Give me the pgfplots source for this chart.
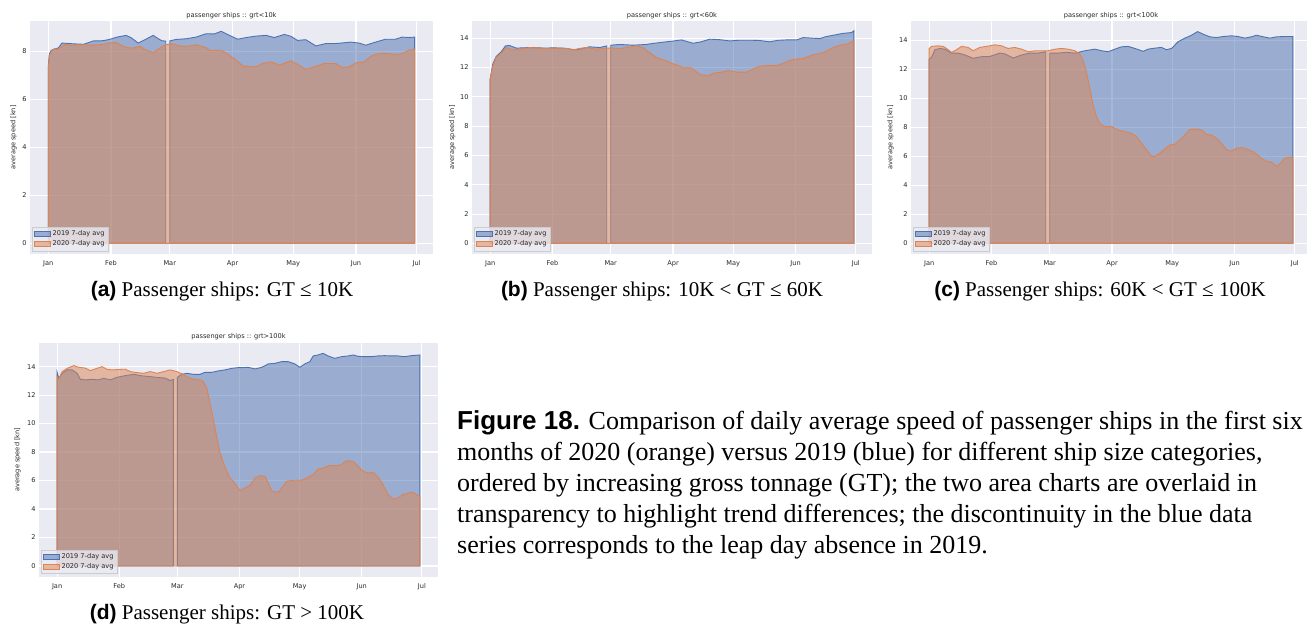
\documentclass[border=0pt]{standalone}
\usepackage{fontspec}
\setmainfont{Liberation Serif}
\newfontfamily\dejavu{DejaVu Sans}
\newfontfamily\arialf{Liberation Sans}
\usepackage{pgfplots}
\pgfplotsset{compat=1.18}
\definecolor{bgc}{HTML}{EAEAF2}
\definecolor{c19}{HTML}{4C72B0}
\definecolor{c20}{HTML}{DD8452}
\definecolor{txt}{HTML}{262626}
\newcommand\sm{\dejavu\fontsize{6.6}{7.5}\selectfont}
\newcommand\capf{\fontsize{21}{31}\selectfont}
\newcommand\bigcapf{\fontsize{26}{31}\selectfont}
\pgfplotsset{
 panel/.style={
  scale only axis, anchor=north west,
  axis background/.style={fill=bgc},
  grid=major, major grid style={white, line width=1.2pt},
  axis line style={draw=none},
  major tick length=0pt,
  xmin=-9.05, xmax=190.05,
  xtick={0,31,60,91,121,152,182},
  xticklabels={Jan,Feb,Mar,Apr,May,Jun,Jul},
  tick label style={font=\sm, text=txt},
  xticklabel style={text height=5pt, text depth=1pt, yshift=-3pt},
  /pgf/number format/assume math mode=true,
  ylabel={average speed [kn]},
  ylabel style={font=\sm, text=txt, anchor=center},
  title style={font=\sm, text=txt, yshift=-7pt},
  legend style={at={(0.005,0.013)}, anchor=south west, fill=bgc, fill opacity=0.8, text opacity=1, draw=black!20, font=\sm, text=txt, inner xsep=1.5pt, inner ysep=1.5pt, row sep=-0.5pt},
  legend cell align=left,
  legend image code/.code={\draw[##1, fill opacity=0.5, draw opacity=1, sharp corners] (0pt,-2.7pt) rectangle (16pt,2.7pt);},
 },
 b19/.style={draw=c19, fill=c19, fill opacity=0.5, line width=0.9pt},
 b20/.style={draw=c20, fill=c20, fill opacity=0.5, line width=0.9pt},
}
\begin{document}
\begin{tikzpicture}
\useasboundingbox (0,0) rectangle (1307pt,626pt);
% ---------------- (a)
\begin{axis}[panel, at={(30pt,605pt)}, width=403pt, height=233pt,
 ymin=-0.44, ymax=9.27, ytick={0,2,4,6,8},
 title={passenger ships :: grt<10k},
 ylabel style={at={(axis description cs:-0.041,0.5)}}]
\addplot[b19] coordinates {(0,7.4)(0.5,7.9)(1.5,8.05)(3,8.1)(5,8.15)(6.7,8.35)(9,8.34)(12,8.32)(17.4,8.30)(22.3,8.44)(26,8.44)(29,8.48)(31.3,8.53)(34,8.6)(38.4,8.67)(41,8.57)(44.4,8.35)(47.5,8.48)(51.8,8.67)(54,8.55)(56,8.45)(58,8.43)} \closedcycle;
\addplot[b19, forget plot] coordinates {(60,8.44)(63,8.5)(68.2,8.53)(73,8.6)(78,8.74)(82,8.73)(85.4,8.84)(89.5,8.67)(93.6,8.51)(97.7,8.58)(102.6,8.64)(107.6,8.67)(111.6,8.58)(116.6,8.71)(119.9,8.63)(123.1,8.46)(127.2,8.49)(132.2,8.23)(137.1,8.33)(142,8.33)(149.4,8.39)(153.5,8.35)(156.8,8.26)(161.7,8.39)(166.6,8.51)(171.5,8.51)(174.8,8.6)(178.1,8.58)(181,8.6)} \closedcycle;
\addplot[b20] coordinates {(0,7.3)(0.5,7.8)(1.5,8.0)(2.6,8.1)(5,8.1)(8.4,8.3)(11,8.26)(15.6,8.28)(20.7,8.27)(25.5,8.28)(28.7,8.32)(32,8.38)(33.8,8.37)(37,8.21)(39.5,8.16)(41.5,8.14)(45.3,8.22)(48,8.07)(51.8,7.95)(55,8.14)(57.5,8.26)(60.8,8.33)(65.7,8.22)(69.8,8.23)(73.1,8.28)(78,8.16)(80,8.04)(85.4,8.05)(89.5,7.84)(92.8,7.63)(96.1,7.4)(102.6,7.36)(105.9,7.5)(110,7.57)(114.1,7.43)(119.9,7.61)(122.3,7.5)(127.2,7.25)(131.3,7.36)(136.3,7.5)(142,7.5)(145.3,7.33)(148.6,7.36)(151.8,7.52)(155.9,7.57)(160,7.84)(163.3,7.91)(168.2,7.91)(171.5,7.87)(174.8,7.91)(178.1,8.05)(181,8.09)} \closedcycle;
\legend{2019 7-day avg, 2020 7-day avg}
\end{axis}
% ---------------- (b)
\begin{axis}[panel, at={(472pt,605pt)}, width=400pt, height=233pt,
 ymin=-0.72, ymax=15.17, ytick={0,2,...,14},
 title={passenger ships :: grt<60k},
 ylabel style={at={(axis description cs:-0.049,0.5)}}]
\addplot[b19] coordinates {(0,11.22)(1.3,12.24)(3,12.75)(5.5,13.07)(7.6,13.47)(9.6,13.5)(13,13.32)(19.6,13.36)(27.9,13.32)(31,13.34)(36.2,13.32)(42.9,13.2)(49.5,13.41)(54.5,13.36)(58,13.47)} \closedcycle;
\addplot[b19, forget plot] coordinates {(60,13.52)(64.4,13.57)(71.1,13.52)(77.7,13.57)(81,13.64)(87.7,13.75)(91,13.8)(95.2,13.88)(101,13.65)(105,13.75)(109.3,13.93)(114,13.9)(119.3,13.81)(124,13.86)(129.2,13.86)(134,13.84)(139.2,13.75)(143,13.85)(147.5,13.88)(152.5,13.88)(155.8,14.04)(160,14.0)(164.1,13.97)(167,14.1)(170.8,14.2)(175.8,14.33)(179.9,14.38)(181,14.5)} \closedcycle;
\addplot[b20] coordinates {(0,11.22)(1.3,12.1)(3,12.68)(5.5,12.98)(8,13.36)(11.3,13.2)(15,13.25)(19.6,13.36)(24,13.33)(27.9,13.29)(31,13.32)(34.5,13.32)(38,13.3)(41.2,13.2)(44.5,13.3)(47.8,13.36)(52.8,13.25)(57.8,13.32)(61,13.33)(64.4,13.29)(67.8,13.36)(72.7,13.47)(76,13.36)(79.4,13.02)(82.7,12.68)(87.7,12.45)(91,12.25)(94.3,12.1)(96,11.97)(100.2,11.97)(104.4,11.51)(108.5,11.45)(111.8,11.63)(115,11.68)(118.5,11.79)(122.7,11.68)(127.7,11.68)(131,11.9)(134.3,12.09)(138,12.13)(142.6,12.13)(146,12.3)(150,12.53)(155.8,12.62)(160,12.84)(165.8,13.02)(170.8,13.36)(174.1,13.52)(177.4,13.59)(181,13.81)} \closedcycle;
\legend{2019 7-day avg, 2020 7-day avg}
\end{axis}
% ---------------- (c)
\begin{axis}[panel, at={(911pt,605pt)}, width=400pt, height=233pt,
 ymin=-0.73, ymax=15.32, ytick={0,2,...,14},
 title={passenger ships :: grt<100k},
 ylabel style={at={(axis description cs:-0.051,0.5)}}]
\addplot[b19] coordinates {(0,12.7)(1.2,12.82)(2.8,13.34)(5.3,13.43)(7.8,13.38)(11.1,13.11)(14.4,13.11)(17.8,12.98)(21.9,12.75)(26,12.86)(30.2,12.88)(35.2,13.11)(37.7,13.05)(41.8,12.77)(46,12.98)(50.1,13.11)(54.3,13.11)(58,13.2)} \closedcycle;
\addplot[b19, forget plot] coordinates {(60,13.11)(64.2,13.11)(68.4,13.16)(72.5,13.11)(74.2,13.16)(77.5,13.27)(82.5,13.38)(85.8,13.27)(89.1,13.2)(92.4,13.38)(95.7,13.54)(99,13.57)(102.4,13.43)(106.5,13.23)(109,13.38)(112.3,13.45)(115.6,13.5)(118.1,13.34)(120.6,13.43)(123.9,13.89)(127.3,14.14)(130.6,14.34)(133.6,14.59)(136.4,14.41)(139.7,14.23)(143,14.18)(146.3,14.25)(150.5,14.3)(153.8,14.25)(157.1,14.14)(160.4,14.23)(162.9,14.34)(166.3,14.23)(169.6,14.14)(172.9,14.23)(177,14.25)(181,14.25)} \closedcycle;
\addplot[b20] coordinates {(0,13.43)(1.2,13.57)(4.5,13.61)(7,13.57)(8.6,13.43)(11.1,13.16)(13.6,13.34)(16.1,13.57)(19.4,13.5)(21.9,13.27)(25.2,13.5)(28.5,13.57)(32.7,13.68)(36,13.61)(39.3,13.43)(42.6,13.5)(46,13.38)(49.3,13.2)(52.6,13.27)(55.9,13.27)(59.2,13.27)(62.6,13.38)(65.9,13.43)(69.2,13.38)(72.5,13.27)(75,13.04)(76.7,12.59)(78.3,11.79)(80,10.65)(81.6,9.52)(83.3,8.72)(84.9,8.26)(87.4,8.04)(90.8,8.04)(94.1,7.81)(97.4,7.69)(100.7,7.58)(103.2,7.35)(105.7,6.9)(108.2,6.44)(110.7,5.99)(112.3,5.99)(114.8,6.21)(117.3,6.51)(119.8,6.78)(122.3,6.83)(124.8,7.12)(127.3,7.47)(129.7,7.85)(133.1,7.88)(135.6,7.81)(138,7.51)(140.5,7.47)(143,7.24)(145.5,6.9)(148,6.44)(150.5,6.37)(153,6.56)(155.5,6.6)(158,6.51)(160.4,6.37)(162.9,6.15)(165.4,5.87)(167.9,5.65)(170.4,5.6)(172.9,5.3)(174.5,5.46)(177,5.87)(179.5,5.94)(181,5.92)} \closedcycle;
\legend{2019 7-day avg, 2020 7-day avg}
\end{axis}
% ---------------- (d)
\begin{axis}[panel, at={(39pt,283.3pt)}, width=399pt, height=234pt,
 ymin=-0.75, ymax=15.68, ytick={0,2,...,14},
 title={passenger ships :: grt>100k},
 ylabel style={at={(axis description cs:-0.054,0.5)}}]
\addplot[b19] coordinates {(0,13.6)(0.8,13.18)(2.5,13.53)(5,13.77)(7.5,13.77)(10,13.53)(11.6,13.11)(14.1,13.07)(17.4,13.11)(20.7,13.07)(23.2,13.18)(26.5,13.07)(29.9,13.25)(34,13.37)(38.2,13.46)(42.3,13.35)(46.5,13.3)(50.6,13.23)(53.9,13.2)(56.4,13.02)(58,13.1)} \closedcycle;
\addplot[b19, forget plot] coordinates {(60,13.25)(62.2,13.46)(64.7,13.53)(68,13.46)(71.3,13.46)(73.8,13.6)(77.2,13.6)(80.5,13.7)(83.8,13.77)(87.1,13.88)(90.4,13.93)(92.1,13.93)(95.4,13.95)(98.7,13.84)(102.1,13.95)(105.4,14.19)(108.7,14.23)(112,14.35)(115.3,14.35)(118.6,14.19)(121.1,13.95)(123.6,14.19)(126.1,14.35)(127.8,14.75)(130.2,14.82)(132.7,14.93)(135.2,14.75)(138.5,14.58)(141.9,14.7)(145.2,14.75)(147.7,14.82)(150.2,14.72)(153.5,14.7)(156.8,14.7)(160.1,14.75)(163.4,14.77)(166.7,14.75)(170,14.75)(173.4,14.7)(176.7,14.77)(181,14.82)} \closedcycle;
\addplot[b20] coordinates {(0,13.3)(0.8,13.11)(2.5,13.65)(5,13.88)(8.3,14.07)(10.8,13.95)(14,13.9)(16.6,13.72)(19.1,13.84)(22.4,14.0)(24.9,13.81)(27.4,13.77)(30.7,13.8)(34,13.82)(36.5,13.65)(39.8,13.58)(43.1,13.53)(46.5,13.65)(49.8,13.53)(53.1,13.65)(56.4,13.77)(59.7,13.65)(62.2,13.5)(64.7,13.3)(68,13.11)(71.3,13.07)(73,12.95)(74.7,12.48)(76.3,11.43)(78,10.27)(79.6,9.1)(81.3,7.93)(83,7.23)(84.6,6.65)(86.3,6.18)(87.9,5.95)(89.6,5.6)(91.3,5.3)(93.7,5.48)(96.2,5.65)(98.7,6.18)(101.2,6.35)(103.7,6.3)(105.4,5.83)(107.1,5.25)(110.4,5.18)(112,5.48)(114.5,5.95)(117.8,6.02)(122,6.02)(124.4,6.18)(127.8,6.42)(130.2,6.81)(132.7,6.88)(136,7.05)(139.4,7.05)(141.9,7.12)(144.4,7.4)(147.7,7.35)(150.2,7.0)(152.7,6.65)(155.2,6.53)(157.7,6.58)(160.1,6.25)(162.6,5.72)(165.1,5.02)(167.6,4.71)(170.1,4.78)(172.6,5.02)(175.1,5.13)(177.6,5.18)(179.3,5.02)(181,4.9)} \closedcycle;
\legend{2019 7-day avg, 2020 7-day avg}
\end{axis}
% ---------------- captions
\node[font=\capf, anchor=base] at (222pt,329pt) {{\arialf\bfseries (a)} Passenger ships: GT ≤ 10K};
\node[font=\capf, anchor=base] at (662pt,329pt) {{\arialf\bfseries (b)} Passenger ships: 10K < GT ≤ 60K};
\node[font=\capf, anchor=base] at (1100pt,329pt) {{\arialf\bfseries (c)} Passenger ships: 60K < GT ≤ 100K};
\node[font=\capf, anchor=base] at (227pt,6pt) {{\arialf\bfseries (d)} Passenger ships: GT > 100K};
\node[font=\bigcapf, anchor=north west, align=left, inner sep=0pt] at (457pt,216pt) {{\arialf\bfseries Figure 18.} Comparison of daily average speed of passenger ships in the first six\\months of 2020 (orange) versus 2019 (blue) for different ship size categories,\\ordered by increasing gross tonnage (GT); the two area charts are overlaid in\\transparency to highlight trend differences; the discontinuity in the blue data\\series corresponds to the leap day absence in 2019.};
\end{tikzpicture}
\end{document}
